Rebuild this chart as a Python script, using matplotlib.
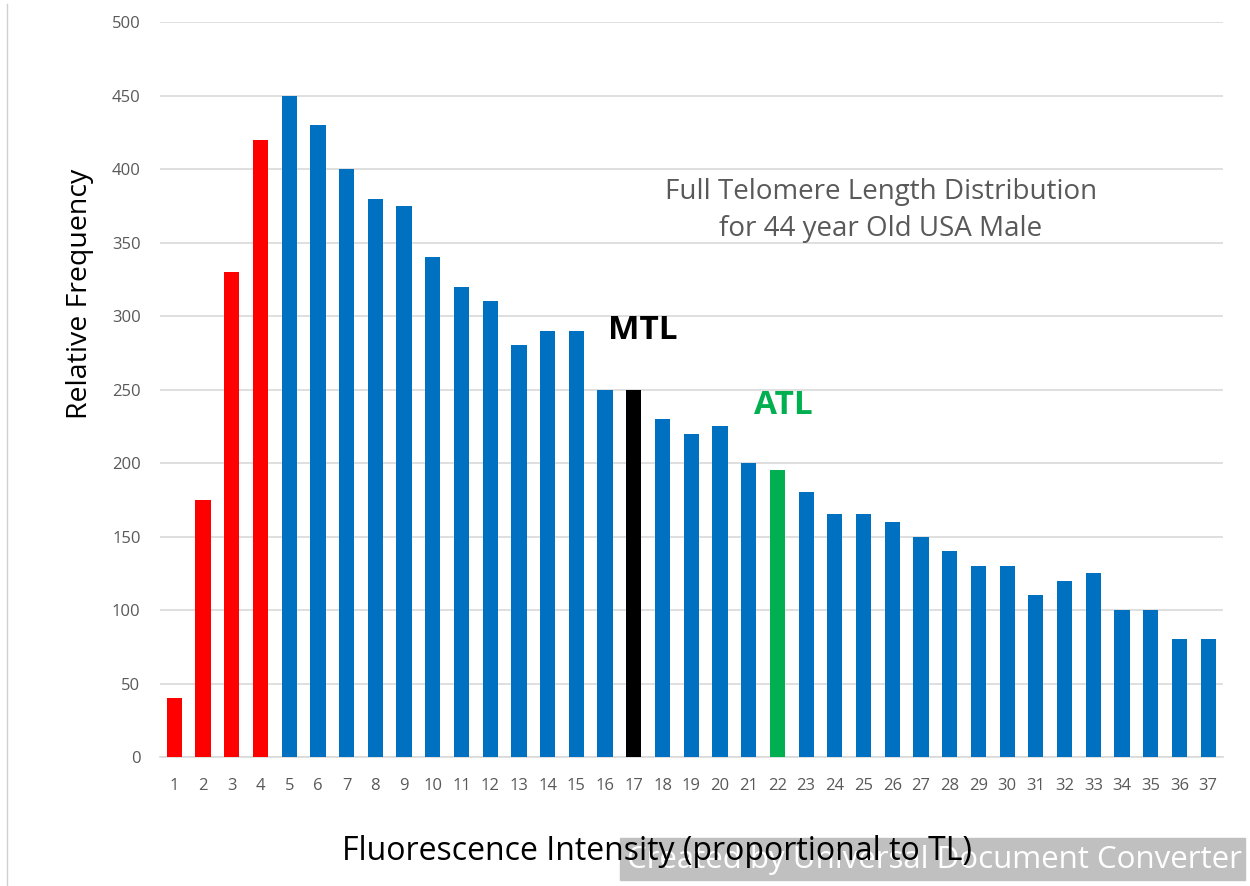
"""Full telomere length distribution bar chart."""

import matplotlib
matplotlib.use("Agg")
import matplotlib.pyplot as plt
import numpy as np
from matplotlib.patches import Rectangle
from matplotlib.lines import Line2D

plt.rcParams["font.family"] = ["Open Sans", "DejaVu Sans"]

categories = [str(i) for i in range(1, 38)]
frequency = [40, 175, 330, 420, 450, 430, 400, 380, 375, 340,
             320, 310, 280, 290, 290, 250, 250, 230, 220, 225,
             200, 195, 180, 165, 165, 160, 150, 140, 130, 130,
             110, 120, 125, 100, 100, 80, 80]
red_bins = ["1", "2", "3", "4"]
mtl_bin = "17"
atl_bin = "22"

RED = "#FF0000"
BLUE = "#0070C0"
GREEN = "#00B050"

colors = []
for cat in categories:
    if cat in red_bins:
        colors.append(RED)
    elif cat == mtl_bin:
        colors.append("black")
    elif cat == atl_bin:
        colors.append(GREEN)
    else:
        colors.append(BLUE)

fig = plt.figure(figsize=(12.5, 8.86), dpi=100)
ax = fig.add_axes([0.128, 0.1456, 0.850, 0.8294])

x = np.arange(len(categories))
ax.bar(x, frequency, width=0.53, color=colors, zorder=3)

ax.set_xlim(-0.5, len(categories) - 0.5)
ax.set_ylim(0, 500)
ax.set_yticks(np.arange(0, 501, 50))
ax.set_xticks(x)
ax.set_xticklabels(categories)
ax.tick_params(axis="both", length=0, labelsize=12, labelcolor="#595959")
ax.tick_params(axis="x", pad=15)
ax.tick_params(axis="y", pad=14)
ax.grid(axis="y", color="#D9D9D9", linewidth=1.2, zorder=0)
for side in ["top", "right", "left"]:
    ax.spines[side].set_visible(False)
ax.spines["bottom"].set_color("#D9D9D9")
ax.spines["bottom"].set_linewidth(1.2)

ax.set_ylabel("Relative Frequency", fontsize=20.5, va="center")
ax.yaxis.set_label_coords(-0.075, 0.63)
ax.set_xlabel("Fluorescence Intensity (proportional to TL)", fontsize=23, va="center")
ax.xaxis.set_label_coords(0.468, -0.128)

ax.text(24.6, 372, "Full Telomere Length Distribution\nfor 44 year Old USA Male",
        ha="center", va="center", fontsize=20, color="#595959", linespacing=1.45)
ax.text(categories.index(mtl_bin) + 0.3, 290, "MTL", fontsize=24,
        fontweight="bold", color="black", ha="center", va="center")
ax.text(categories.index(atl_bin) + 0.2, 239, "ATL", fontsize=24,
        fontweight="bold", color=GREEN, ha="center", va="center")

# watermark banner, kept behind the axes so the x label sits on top
fig.patches.append(Rectangle((620 / 1250, 1 - 880 / 886), 625 / 1250, 42 / 886,
                             transform=fig.transFigure, color="#C0C0C0", zorder=-2))
fig.text(934 / 1250, 1 - 860 / 886, "Created by Universal Document Converter",
         ha="center", va="center", fontsize=22.5, color="white", zorder=-1)
fig.lines.append(Line2D([7 / 1250, 7 / 1250], [0, 0.995], transform=fig.transFigure,
                        color="#D0D0D0", linewidth=1))

fig.savefig("out.png", dpi=100, facecolor="white")
